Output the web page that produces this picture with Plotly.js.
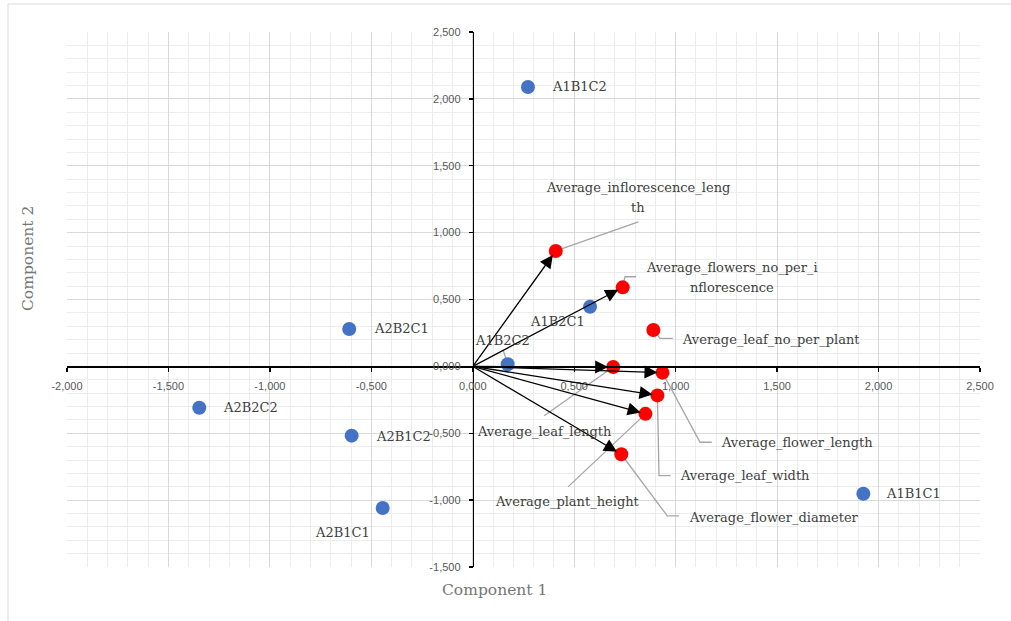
<!DOCTYPE html>
<html>
<head>
<meta charset="utf-8">
<script src="https://cdn.plot.ly/plotly-3.0.1.min.js"></script>
<style>html,body{margin:0;padding:0;background:#fff;}#chart{width:1011px;height:621px;}</style>
</head>
<body>
<div id="chart"></div>
<script>
// ---- data ----
const scoreNames = ['A1B1C1','A1B1C2','A1B2C1','A1B2C2','A2B1C1','A2B1C2','A2B2C1','A2B2C2'];
const scoreX = [1.925, 0.272, 0.578, 0.172, -0.444, -0.597, -0.609, -1.348];
const scoreY = [-0.952, 2.089, 0.446, 0.016, -1.059, -0.518, 0.280, -0.309];

const varNames = ['Average_plant_height','Average_leaf_no_per_plant','Average_leaf_length','Average_leaf_width',
  'Average_inflorescence_length','Average_flowers_no_per_inflorescence','Average_flower_length','Average_flower_diameter'];
const varLabels = ['Average_plant_height','Average_leaf_no_per_plant','Average_leaf_length','Average_leaf_width',
  'Average_inflorescence_leng<br>th','Average_flowers_no_per_i<br>nflorescence','Average_flower_length','Average_flower_diameter'];
const varX = [0.851, 0.890, 0.692, 0.910, 0.409, 0.739, 0.935, 0.732];
const varY = [-0.355, 0.272, -0.005, -0.217, 0.863, 0.591, -0.047, -0.657];
const varHasArrow = [true, false, true, true, true, true, true, true];

const xTickVals = [-2, -1.5, -1, -0.5, 0, 0.5, 1, 1.5, 2, 2.5];
const xTickText = ['-2,000','-1,500','-1,000','-0,500','0,000','0,500','1,000','1,500','2,000','2,500'];
const yTickVals = [-1.5, -1, -0.5, 0, 0.5, 1, 1.5, 2, 2.5];
const yTickText = ['-1,500','-1,000','-0,500','0,000','0,500','1,000','1,500','2,000','2,500'];

// ---- layout / placement (pixels) ----
const W = 1011, H = 621;
const M = {l: 67, r: 31, t: 32, b: 54};
const xRange = [-2, 2.5], yRange = [-1.5, 2.5];
const plotW = W - M.l - M.r, plotH = H - M.t - M.b;
const xScale = plotW / (xRange[1] - xRange[0]);
const yScale = plotH / (yRange[1] - yRange[0]);

// label offsets in px from point (screen coords: +y down)
const scoreLabelPos = {
  A1B1C1: {dx: 21, dy: 0, anchor: 'left'},
  A1B1C2: {dx: 22, dy: 0, anchor: 'left'},
  A1B2C1: {dx: -33, dy: 15, anchor: 'center'},
  A1B2C2: {dx: -5, dy: -24, anchor: 'center', leader: [[-4.5, -14], [-0.5, -2]]},
  A2B1C1: {dx: -40, dy: 24, anchor: 'center'},
  A2B1C2: {dx: 22, dy: 1, anchor: 'left'},
  A2B2C1: {dx: 22.5, dy: 0, anchor: 'left'},
  A2B2C2: {dx: 22, dy: 0, anchor: 'left'}
};
const varLabelPos = {
  Average_plant_height: {dx: -78, dy: 88, anchor: 'center', leader: [[0, 0], [-77.4, 73]]},
  Average_leaf_no_per_plant: {dx: 27, dy: 9, anchor: 'left', leader: [[0, 0], [6.7, 8.3], [19.4, 8.3]]},
  Average_leaf_length: {dx: -69, dy: 64, anchor: 'center', leader: [[0, 0], [-69, 48.7]]},
  Average_leaf_width: {dx: 21, dy: 80, anchor: 'left', leader: [[0, 0], [1.6, 80.3], [13.3, 80.3]]},
  Average_inflorescence_length: {dx: 82, dy: -53, anchor: 'center', leader: [[0, 0], [82.6, -29]]},
  Average_flowers_no_per_inflorescence: {dx: 109, dy: -10, anchor: 'center', leader: [[0, 0], [2.3, -10.6], [13.3, -10.6]]},
  Average_flower_length: {dx: 57, dy: 70, anchor: 'left', leader: [[0, 0], [37.6, 69.6], [49.3, 69.6]]},
  Average_flower_diameter: {dx: 66, dy: 63, anchor: 'left', leader: [[0, 0], [46, 61.7], [57.6, 61.7]]}
};

const labelFont = {family: 'DejaVu Serif', size: 13, color: '#404040'};
const leaderColor = '#a6a6a6';

function leaderPath(x, y, pts) {
  return pts.map((p, i) => (i ? 'L' : 'M') + (x + p[0] / xScale) + ',' + (y - p[1] / yScale)).join(' ');
}

const annotations = [];
const shapes = [];

// outer chart border
shapes.push({type: 'rect', xref: 'paper', yref: 'paper', x0: (8 - M.l) / plotW, x1: 1.2,
  y0: -0.3, y1: (H - M.b - 4) / plotH, line: {color: '#d9d9d9', width: 1}, layer: 'below'});

// arrows
varNames.forEach((n, i) => {
  if (!varHasArrow[i]) return;
  annotations.push({x: varX[i], y: varY[i], ax: 0, ay: 0, xref: 'x', yref: 'y', axref: 'x', ayref: 'y',
    text: '', showarrow: true, arrowhead: 2, arrowsize: 2, arrowwidth: 1.3, arrowcolor: '#000', standoff: 5});
});

function addLabel(x, y, text, pos) {
  const lines = text.split('<br>');
  lines.forEach((ln, k) => {
    const off = (k - (lines.length - 1) / 2) * 20;
    annotations.push({x: x, y: y, xref: 'x', yref: 'y', text: ln, showarrow: false,
      xanchor: pos.anchor, yanchor: 'middle', xshift: pos.dx, yshift: -(pos.dy + off), font: labelFont});
  });
  if (pos.leader) {
    shapes.push({type: 'path', xref: 'x', yref: 'y', path: leaderPath(x, y, pos.leader),
      line: {color: leaderColor, width: 1.3}, layer: 'between'});
  }
}
scoreNames.forEach((n, i) => addLabel(scoreX[i], scoreY[i], n, scoreLabelPos[n]));
varNames.forEach((n, i) => addLabel(varX[i], varY[i], varLabels[i], varLabelPos[n]));

// axis titles
annotations.push({xref: 'paper', yref: 'paper', x: (494 - M.l) / plotW, y: (H - M.b - 590) / plotH,
  text: 'Component 1', showarrow: false, xanchor: 'center', yanchor: 'middle',
  font: {family: 'DejaVu Serif', size: 15.5, color: '#767676'}});
annotations.push({xref: 'paper', yref: 'paper', x: (28 - M.l) / plotW, y: (H - M.b - 259) / plotH,
  text: 'Component 2', showarrow: false, xanchor: 'center', yanchor: 'middle', textangle: -90,
  font: {family: 'DejaVu Serif', size: 15.5, color: '#767676'}});

const traces = [
  {type: 'scatter', mode: 'markers', x: scoreX, y: scoreY, text: scoreNames, hoverinfo: 'text',
    marker: {color: '#4472C4', size: 14}},
  {type: 'scatter', mode: 'markers', x: varX, y: varY, text: varNames, hoverinfo: 'text',
    marker: {color: '#FF0000', size: 14}}
];

const tickFont = {family: 'Liberation Sans', size: 11, color: '#595959'};
const layout = {
  width: W, height: H, margin: M, showlegend: false,
  paper_bgcolor: '#fff', plot_bgcolor: '#fff',
  xaxis: {range: xRange, anchor: 'free', position: (0 - yRange[0]) / (yRange[1] - yRange[0]),
    tickvals: xTickVals, ticktext: xTickText, tickfont: tickFont, ticklabelstandoff: 5,
    showline: true, linecolor: '#000', linewidth: 1.5, zeroline: false,
    ticks: 'outside', ticklen: 4, tickcolor: '#000', tickwidth: 1.3,
    showgrid: true, gridcolor: '#d9d9d9', gridwidth: 1,
    minor: {dtick: 0.1, tick0: 0, showgrid: true, gridcolor: '#ededed', gridwidth: 1, ticks: ''}},
  yaxis: {range: yRange, anchor: 'free', position: (0 - xRange[0]) / (xRange[1] - xRange[0]),
    tickvals: yTickVals, ticktext: yTickText, tickfont: tickFont, ticklabelstandoff: 6,
    showline: true, linecolor: '#000', linewidth: 1.5, zeroline: false,
    ticks: 'outside', ticklen: 4, tickcolor: '#000', tickwidth: 1.3,
    showgrid: true, gridcolor: '#d9d9d9', gridwidth: 1,
    minor: {dtick: 0.1, tick0: 0, showgrid: true, gridcolor: '#ededed', gridwidth: 1, ticks: ''}},
  annotations: annotations,
  shapes: shapes
};

Plotly.newPlot('chart', traces, layout, {displayModeBar: false, staticPlot: true});
</script>
</body>
</html>
